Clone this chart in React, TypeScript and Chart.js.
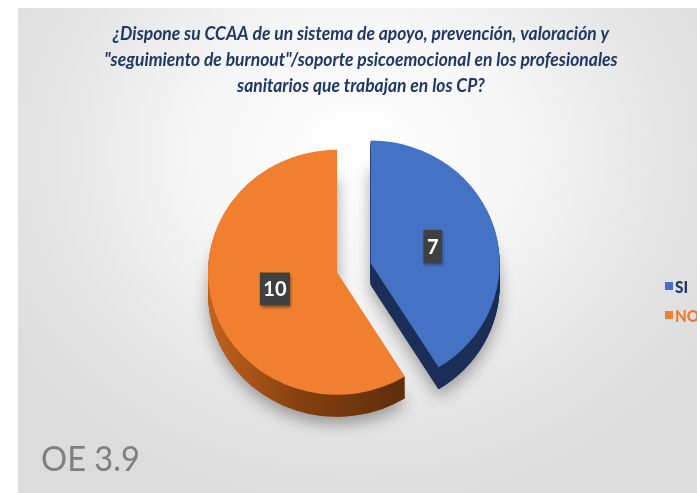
import React, { useEffect, useRef } from "react";
import { Chart, registerables } from "chart.js";

Chart.register(...registerables);

const categories = ["SI", "NO"];
const values = [7, 10];
const sliceColors = ["#4472C4", "#F0802F"];
const legendTextColors = ["#1F3864", "#E97C30"];
const titleLines = [
  "¿Dispone su CCAA de un sistema de apoyo, prevención, valoración y",
  "\"seguimiento de burnout\"/soporte psicoemocional en los profesionales",
  "sanitarios que trabajan en los CP?",
];
const footnote = "OE 3.9";

const FONT = "Lato, 'DejaVu Sans Condensed', sans-serif";
const SCALE_Y = 0.95;
const DEPTH = 23;
const EXPLODE = 35;
const PAD_L = 0;
const PAD_R = 23;
const TITLE_CX = 361;
const TITLE_SQUEEZE = 0.92;

function sector(ctx: CanvasRenderingContext2D, x: number, y: number, r: number, a0: number, a1: number) {
  ctx.beginPath();
  ctx.moveTo(x, y);
  ctx.arc(x, y, r, a0, a1);
  ctx.closePath();
}

const pie3d = {
  id: "pie3d",
  afterDatasetsUpdate(chart: any) {
    const meta = chart.getDatasetMeta(0);
    const el = meta.data[0];
    if (!el) return;
    const mid = (el.startAngle + el.endAngle) / 2;
    el.x += Math.cos(mid) * EXPLODE;
    el.y += Math.sin(mid) * EXPLODE;
  },
  beforeDraw(chart: any) {
    // horizontally condense the title (Calibri-like narrow text)
    const ctx: CanvasRenderingContext2D = chart.ctx;
    const boxCx = (PAD_L + chart.width - PAD_R) / 2;
    ctx.save();
    ctx.translate(TITLE_CX, 0);
    ctx.scale(TITLE_SQUEEZE, 1);
    ctx.translate(-boxCx, 0);
  },
  beforeDatasetsDraw(chart: any) {
    const ctx: CanvasRenderingContext2D = chart.ctx;
    ctx.restore();
    const ca = chart.chartArea;
    const cy = (ca.top + ca.bottom) / 2;
    ctx.save();
    ctx.translate(0, cy);
    ctx.scale(1, SCALE_Y);
    ctx.translate(0, -cy);
    const meta = chart.getDatasetMeta(0);
    meta.data.forEach((el: any, i: number) => {
      const { x, y, startAngle, endAngle, outerRadius } = el;
      let side: any;
      if (i === 0) {
        side = "#1B2F57";
      } else {
        const g = ctx.createLinearGradient(x - outerRadius, 0, x + outerRadius * 0.6, 0);
        g.addColorStop(0, "#C2621F");
        g.addColorStop(0.45, "#85400F");
        g.addColorStop(1, "#5A2C0B");
        side = g;
      }
      ctx.save();
      ctx.shadowColor = "rgba(0,0,0,0.35)";
      ctx.shadowBlur = 16;
      ctx.shadowOffsetY = 7;
      ctx.fillStyle = side;
      sector(ctx, x, y + DEPTH, outerRadius, startAngle, endAngle);
      ctx.fill();
      ctx.restore();
      ctx.fillStyle = side;
      for (let d = DEPTH; d >= 1; d--) {
        sector(ctx, x, y + d, outerRadius, startAngle, endAngle);
        ctx.fill();
      }
    });
  },
  afterDatasetsDraw(chart: any) {
    const ctx: CanvasRenderingContext2D = chart.ctx;
    ctx.restore();
    const ca = chart.chartArea;
    const cy = (ca.top + ca.bottom) / 2;
    const meta = chart.getDatasetMeta(0);
    const data = chart.data.datasets[0].data;
    meta.data.forEach((el: any, i: number) => {
      const p = el.tooltipPosition();
      const sx = p.x;
      const sy = cy + (p.y - cy) * SCALE_Y;
      const txt = String(data[i]);
      ctx.save();
      ctx.font = `bold 20px ${FONT}`;
      const w = ctx.measureText(txt).width + 7;
      const h = 33;
      ctx.shadowColor = "rgba(0,0,0,0.45)";
      ctx.shadowBlur = 3;
      ctx.shadowOffsetX = 1;
      ctx.shadowOffsetY = 2;
      ctx.fillStyle = "#404040";
      ctx.fillRect(sx - w / 2, sy - h / 2, w, h);
      ctx.shadowColor = "transparent";
      ctx.fillStyle = "#FFFFFF";
      ctx.textAlign = "center";
      ctx.textBaseline = "middle";
      ctx.fillText(txt, sx, sy + 1);
      ctx.restore();
    });
  },
};

export default function App() {
  const canvasRef = useRef<HTMLCanvasElement | null>(null);

  useEffect(() => {
    const canvas = canvasRef.current;
    if (!canvas) return;
    const chart = new Chart(canvas, {
      type: "pie",
      data: {
        labels: categories,
        datasets: [
          {
            data: values,
            backgroundColor: sliceColors,
            borderWidth: 0,
            clip: false as any,
          },
        ],
      },
      options: {
        responsive: false,
        animation: false,
        events: [],
        radius: 129,
        layout: { padding: { left: PAD_L, right: PAD_R, top: 0, bottom: 58 } },
        plugins: {
          legend: { display: false },
          tooltip: { enabled: false },
          title: {
            display: true,
            text: titleLines,
            color: "#1F3864",
            font: { family: FONT, size: 19, weight: "bold", style: "italic", lineHeight: 1.36 },
            padding: { top: 21, bottom: 11 },
          },
        },
      } as any,
      plugins: [pie3d],
    });
    return () => chart.destroy();
  }, []);

  return (
    <div
      style={{
        position: "fixed",
        left: 0,
        top: 0,
        width: 697,
        height: 493,
        overflow: "hidden",
        background: "#ffffff",
      }}
    >
      <div
        style={{
          position: "absolute",
          left: 18,
          top: 8,
          right: 0,
          bottom: 0,
          background:
            "radial-gradient(ellipse 62% 75% at 50% 30%, #ffffff 0%, #f5f5f5 40%, #e4e4e4 75%, #dcdcdc 100%)",
        }}
      />
      <canvas
        ref={canvasRef}
        width={697}
        height={493}
        style={{ position: "absolute", left: 0, top: 0, display: "block" }}
      />
      {categories.map((c, i) => (
        <div
          key={c}
          style={{
            position: "absolute",
            left: 665,
            top: 276 + i * 29,
            height: 20,
            display: "flex",
            alignItems: "center",
            whiteSpace: "nowrap",
            fontFamily: FONT,
            fontWeight: 900,
            fontSize: 17,
            color: legendTextColors[i],
          }}
        >
          <span
            style={{
              display: "inline-block",
              width: 8,
              height: 8,
              background: sliceColors[i],
              marginRight: 2,
            }}
          />
          <span style={{ display: "inline-block", transform: "scaleX(0.9)", transformOrigin: "left center" }}>{c}</span>
        </div>
      ))}
      <div
        style={{
          position: "absolute",
          left: 41,
          top: 436,
          fontFamily: FONT,
          fontSize: 34,
          color: "#7F7F7F",
          lineHeight: "44px",
          whiteSpace: "nowrap",
          transform: "scaleX(0.96)",
          transformOrigin: "left center",
        }}
      >
        {footnote}
      </div>
    </div>
  );
}
